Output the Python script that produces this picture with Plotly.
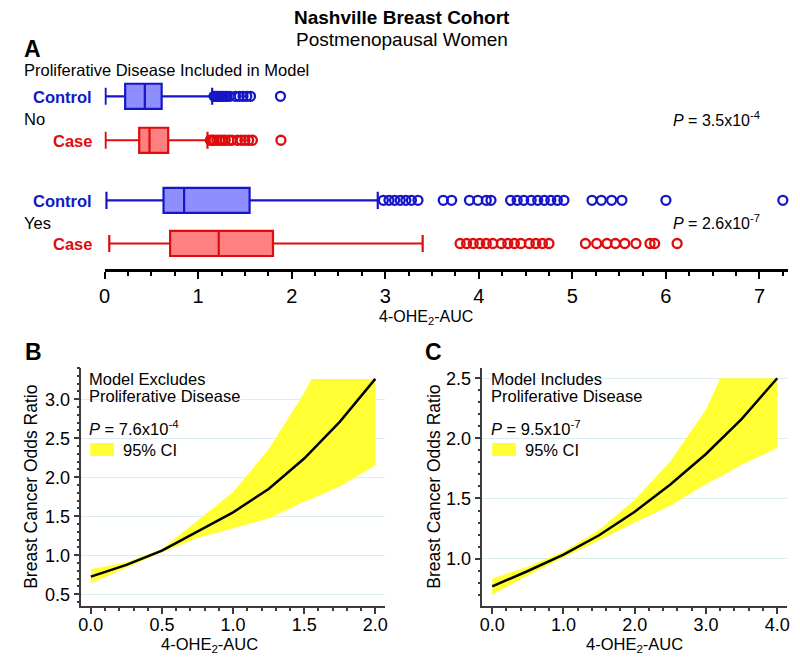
import plotly.graph_objects as go

# ---------------- Data ----------------
# Panel A: box-plot statistics of 4-OHE2-AUC
groups = ["Control", "Case", "Control", "Case"]
model_flag = ["No", "No", "Yes", "Yes"]
lowerfence = [0.01, 0.01, 0.02, 0.05]
q1 = [0.22, 0.37, 0.63, 0.70]
median = [0.43, 0.48, 0.85, 1.22]
q3 = [0.61, 0.68, 1.55, 1.80]
upperfence = [1.15, 1.10, 2.92, 3.40]

outliers_control_no = [1.17, 1.19, 1.21, 1.23, 1.25, 1.27, 1.29, 1.31, 1.34, 1.40, 1.44, 1.48, 1.52, 1.56, 1.88]
outliers_case_no = [1.13, 1.15, 1.17, 1.20, 1.23, 1.26, 1.29, 1.33, 1.36, 1.42, 1.46, 1.50, 1.54, 1.58, 1.885]
outliers_control_yes = [2.98, 3.04, 3.10, 3.16, 3.22, 3.28, 3.35, 3.62, 3.71, 3.90, 3.99, 4.08, 4.13,
                        4.34, 4.41, 4.48, 4.56, 4.63, 4.70, 4.77, 4.84, 4.91, 5.21, 5.31, 5.42, 5.53,
                        6.00, 7.25]
outliers_case_yes = [3.80, 3.87, 3.94, 4.01, 4.08, 4.15, 4.24, 4.31, 4.38, 4.45, 4.54, 4.61, 4.68, 4.75,
                     5.14, 5.26, 5.37, 5.46, 5.56, 5.68, 5.83, 5.88, 6.12]
outliers = [outliers_control_no, outliers_case_no, outliers_control_yes, outliers_case_yes]

# Panel B: model excludes proliferative disease
b_x = [0.0, 0.25, 0.5, 0.75, 1.0, 1.25, 1.5, 1.75, 2.0]
b_or = [0.727, 0.876, 1.06, 1.31, 1.55, 1.85, 2.24, 2.71, 3.26]
b_ci_x = [0.0, 0.25, 0.5, 0.75, 1.0, 1.25, 1.5, 1.55, 1.75, 2.0]
b_ci_lo = [0.64, 0.845, 1.04, 1.22, 1.35, 1.47, 1.69, 1.72, 1.88, 2.15]
b_ci_hi = [0.82, 0.91, 1.08, 1.44, 1.81, 2.36, 3.08, 3.26, 3.26, 3.26]

# Panel C: model includes proliferative disease
c_x = [0.0, 0.5, 1.0, 1.5, 2.0, 2.5, 3.0, 3.5, 4.0]
c_or = [0.77, 0.897, 1.034, 1.194, 1.39, 1.617, 1.87, 2.16, 2.50]
c_ci_x = [0.0, 0.5, 1.0, 1.5, 2.0, 2.5, 3.0, 3.2, 3.5, 4.0]
c_ci_lo = [0.70, 0.86, 1.01, 1.15, 1.30, 1.44, 1.62, 1.68, 1.78, 1.92]
c_ci_hi = [0.835, 0.935, 1.06, 1.24, 1.49, 1.81, 2.24, 2.50, 2.50, 2.50]

# ---------------- Style ----------------
W, H = 800, 661
OFF = 8  # default page body margin shifts the figure by 8 px
FONT = "Liberation Sans, Arial, sans-serif"
NARROW = "Liberation Sans Narrow, Arial Narrow, Liberation Sans, sans-serif"
BLUE, BLUE_FILL = "rgb(22,22,200)", "rgb(142,142,255)"
RED, RED_FILL = "rgb(222,12,12)", "rgb(255,128,128)"
YELLOW = "rgb(255,255,51)"
GRID = "rgb(220,236,240)"
AXC = "rgb(60,60,60)"

def px(x):
    return (x - OFF) / W

def py(y):
    return 1 - (y - OFF) / H

row_pos = [3.38, 2.37, 0.99, 0.0]
colors = {"Control": (BLUE, BLUE_FILL), "Case": (RED, RED_FILL)}

fig = go.Figure()

# Panel A boxes
for i, g in enumerate(groups):
    lc, fc = colors[g]
    fig.add_trace(go.Box(
        y=[row_pos[i]], q1=[q1[i]], median=[median[i]], q3=[q3[i]],
        lowerfence=[lowerfence[i]], upperfence=[upperfence[i]],
        orientation="h", width=0.575, whiskerwidth=0.68,
        fillcolor=fc, line=dict(color=lc, width=2.2), boxpoints=False,
        xaxis="x", yaxis="y", showlegend=False, hoverinfo="skip"))
    fig.add_trace(go.Scatter(
        x=outliers[i], y=[row_pos[i]] * len(outliers[i]), mode="markers",
        marker=dict(symbol="circle-open", size=9, color=lc, line=dict(width=2.3, color=lc)),
        xaxis="x", yaxis="y", showlegend=False, hoverinfo="skip", cliponaxis=False))

# Panels B and C
for (xs, ors, cx, lo, hi, xa, ya) in [
        (b_x, b_or, b_ci_x, b_ci_lo, b_ci_hi, "x2", "y2"),
        (c_x, c_or, c_ci_x, c_ci_lo, c_ci_hi, "x3", "y3")]:
    fig.add_trace(go.Scatter(x=cx, y=lo, mode="lines", line=dict(width=0, color=YELLOW),
                             xaxis=xa, yaxis=ya, showlegend=False, hoverinfo="skip"))
    fig.add_trace(go.Scatter(x=cx, y=hi, mode="lines", line=dict(width=0, color=YELLOW),
                             fill="tonexty", fillcolor=YELLOW,
                             xaxis=xa, yaxis=ya, showlegend=False, hoverinfo="skip"))
    fig.add_trace(go.Scatter(x=xs, y=ors, mode="lines", line=dict(width=2.5, color="black"),
                             xaxis=xa, yaxis=ya, showlegend=False, hoverinfo="skip"))

common_ax = dict(showgrid=False, zeroline=False, showline=True, ticks="outside",
                 linecolor=AXC, linewidth=1.5, tickcolor=AXC, tickwidth=1.5, ticklen=6,
                 tickfont=dict(family=FONT, size=18, color="black"))

layout = dict(
    width=W, height=H, margin=dict(l=0, r=0, t=0, b=0),
    paper_bgcolor="white", plot_bgcolor="white",
    font=dict(family=FONT, color="black"),
    showlegend=False,
    xaxis=dict(domain=[px(99.5), px(790)], range=[0, 7.307], anchor="y",
               showgrid=False, zeroline=False, showline=True, linecolor="black", linewidth=2.5,
               ticks="outside", tickcolor="black", tickwidth=2, ticklen=7, dtick=1, tick0=0,
               tickfont=dict(family=NARROW, size=20, color="black"),
               minor=dict(dtick=0.25, ticklen=4, tickwidth=2, tickcolor="black", ticks="outside")),
    yaxis=dict(domain=[py(269), py(78)], range=[-0.586, 3.80], visible=False, anchor="x"),
    xaxis2=dict(domain=[px(76), px(383)], range=[-0.067, 2.07], anchor="y2",
                dtick=0.5, tick0=0, tickformat=".1f", ticklabelstandoff=-4,
                minor=dict(dtick=0.1, ticklen=3, tickcolor=AXC, ticks="outside"), **common_ax),
    yaxis2=dict(domain=[py(606), py(368)], range=[0.35, 3.40], anchor="x2",
                dtick=0.5, tick0=0, tickformat=".1f",
                minor=dict(dtick=0.1, ticklen=3, tickcolor=AXC, ticks="outside"),
                **{**common_ax, "showgrid": True}, gridcolor=GRID, gridwidth=1),
    xaxis3=dict(domain=[px(481), px(789)], range=[-0.14, 4.14], anchor="y3",
                dtick=1, tick0=0, tickformat=".1f", ticklabelstandoff=-4,
                minor=dict(dtick=0.2, ticklen=3, tickcolor=AXC, ticks="outside"), **common_ax),
    yaxis3=dict(domain=[py(606), py(368)], range=[0.606, 2.585], anchor="x3",
                dtick=0.5, tick0=0, tickformat=".1f",
                minor=dict(dtick=0.1, ticklen=3, tickcolor=AXC, ticks="outside"),
                **{**common_ax, "showgrid": True}, gridcolor=GRID, gridwidth=1),
)
fig.update_layout(**layout)

ann = []
def A(x, y, text, size=16, xanchor="left", color="black", angle=0):
    ann.append(dict(x=px(x), y=py(y), xref="paper", yref="paper", text=text, showarrow=False,
                    xanchor=xanchor, yanchor="middle", textangle=angle,
                    font=dict(family=FONT, size=size, color=color)))

A(400, 17, "<b>Nashville Breast Cohort</b>", size=19, xanchor="center")
A(400, 39, "Postmenopausal Women", size=19, xanchor="center")
A(16, 49, "<b>A</b>", size=23)
A(16, 70, "Proliferative Disease Included in Model", size=16.5)
A(16, 119, "No", size=16.5)
A(16, 223, "Yes", size=16.5)
for i, g in enumerate(groups):
    lc, _ = colors[g]
    ypx = [97, 141, 201, 244][i]
    A(89, ypx, "<b>%s</b>" % g, size=16.5, xanchor="right", color=lc)
A(672, 119, "<i>P</i> = 3.5x10<sup>-4</sup>", size=16)
A(672, 222, "<i>P</i> = 2.6x10<sup>-7</sup>", size=16)
A(424, 317, "4-OHE<sub>2</sub>-AUC", size=16, xanchor="center")

A(17, 352, "<b>B</b>", size=23)
A(421, 352, "<b>C</b>", size=23)
A(82, 379, "Model Excludes", size=16.5)
A(82, 396, "Proliferative Disease", size=16.5)
A(82, 428, "<i>P</i> = 7.6x10<sup>-4</sup>", size=16.5)
A(116, 450, "95% CI", size=16.5)
A(488, 379, "Model Includes", size=16.5)
A(488, 396, "Proliferative Disease", size=16.5)
A(488, 428, "<i>P</i> = 9.5x10<sup>-7</sup>", size=16.5)
A(522, 450, "95% CI", size=16.5)
A(205, 645, "4-OHE<sub>2</sub>-AUC", size=16.5, xanchor="center")
A(635, 645, "4-OHE<sub>2</sub>-AUC", size=16.5, xanchor="center")
A(25, 487, "Breast Cancer Odds Ratio", size=17.5, xanchor="center", angle=-90)
A(432, 487, "Breast Cancer Odds Ratio", size=17.5, xanchor="center", angle=-90)
fig.update_layout(annotations=ann)

shapes = []
for x0 in (85, 491):
    shapes.append(dict(type="rect", xref="paper", yref="paper", x0=px(x0), x1=px(x0 + 24),
                       y0=py(456), y1=py(443), fillcolor=YELLOW, line=dict(width=0)))
fig.update_layout(shapes=shapes)

fig.write_html("out.html")
